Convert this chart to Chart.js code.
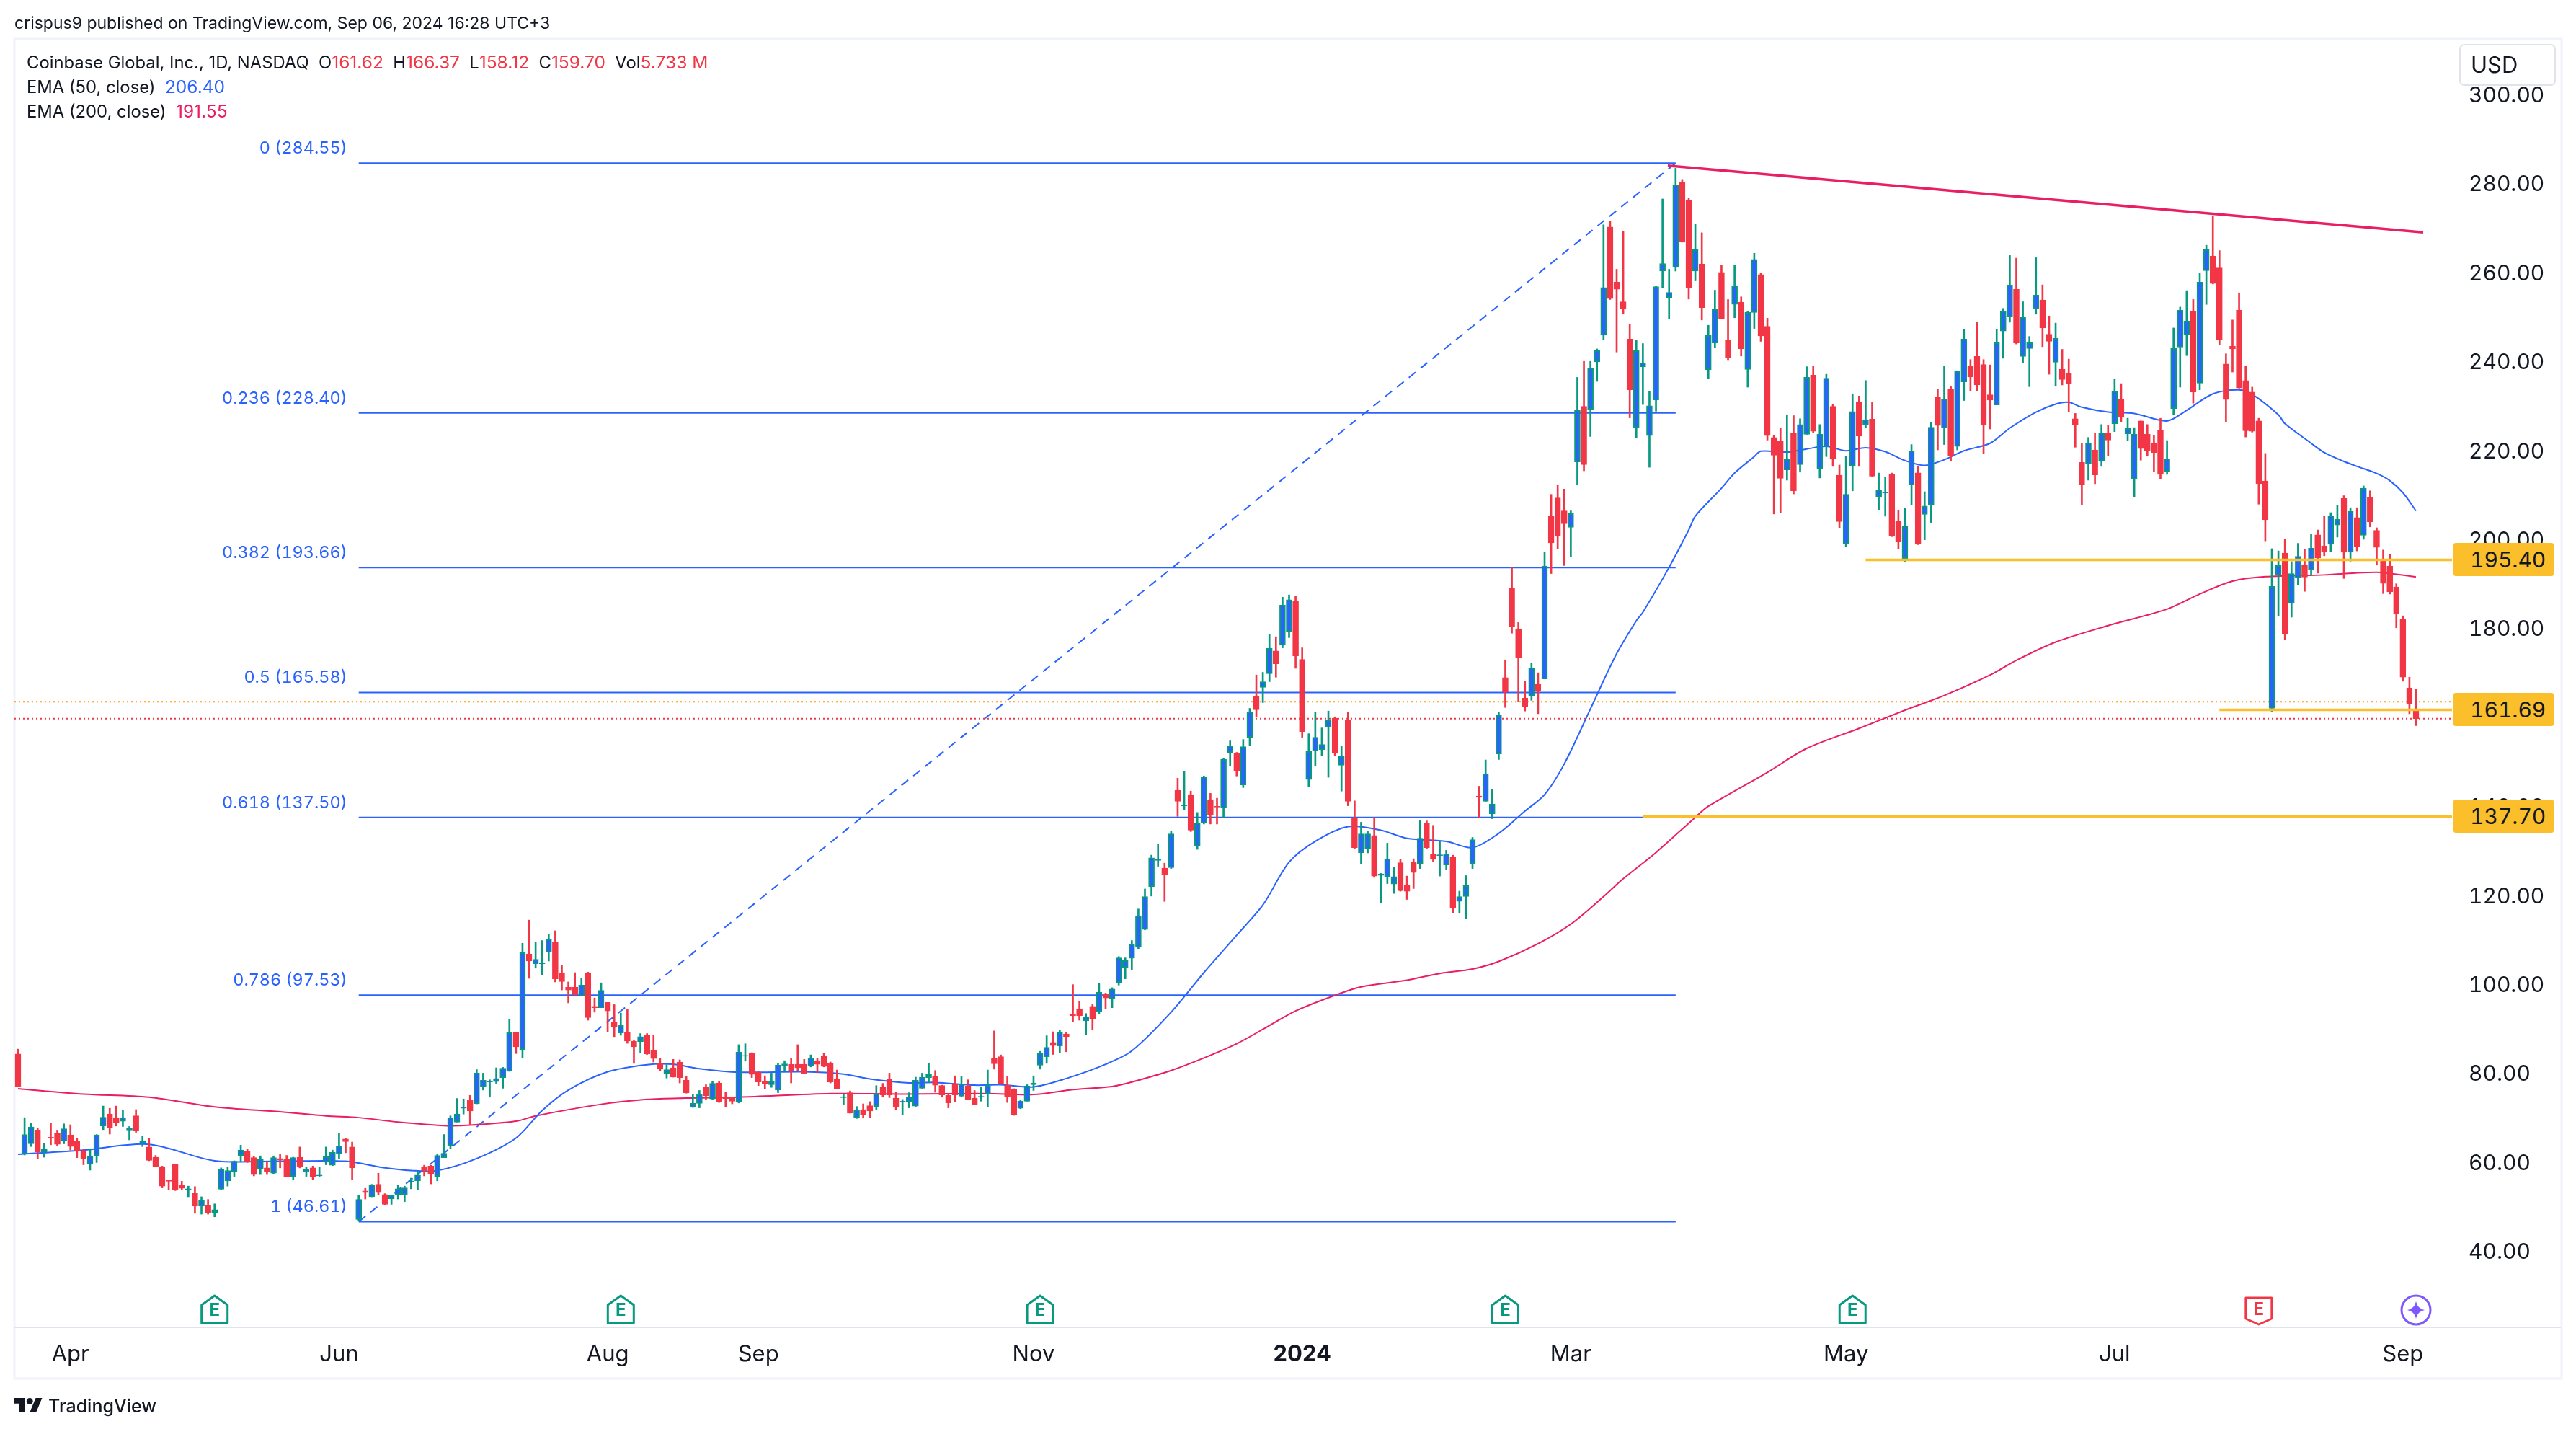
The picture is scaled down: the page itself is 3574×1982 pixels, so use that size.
<!DOCTYPE html>
<html>
<head>
<meta charset="utf-8">
<title>Coinbase Global, Inc., 1D, NASDAQ</title>
<script src="https://cdn.jsdelivr.net/npm/chart.js@4/dist/chart.umd.min.js"></script>
<style>
  html, body { margin: 0; padding: 0; background: #fff; }
  body { position: relative; width: 3574px; height: 1982px; overflow: hidden; font-family: Inter, "Liberation Sans", sans-serif; color: #131722; }
  canvas { display: block; position: absolute; left: 0; top: 0; }
  .txt { position: absolute; white-space: pre; font-size: 23.8px; line-height: 30px; }
  .red, .blue, .pink { font-size: 24.5px; }
  .red { color: #f23645; }
  .blue { color: #2962ff; }
  .pink { color: #e91e63; }
  .price, .fib, .tag { font-variant-numeric: tabular-nums; }
  .price { position: absolute; font-size: 30px; line-height: 40px; white-space: pre; }
  .fib { position: absolute; font-size: 23.4px; line-height: 30px; white-space: pre; color: #2962ff; text-align: right; }
  .tag { position: absolute; left: 3404px; width: 116px; height: 46px; line-height: 46px; padding-left: 23px; font-size: 30px; background: #fbbf2b; border-radius: 3px; }
  #logo { position: absolute; left: 19px; top: 1939px; width: 40px; height: 20px; fill: #131722; }
</style>
</head>
<body>
<canvas id="coinChart" width="3574" height="1982"></canvas>
<div class="txt" style="left:20px;top:17px;font-size:23px">crispus9 published on TradingView.com, Sep 06, 2024 16:28 UTC+3</div>
<div class="txt" style="left:37px;top:71px">Coinbase Global, Inc., 1D, NASDAQ  O<span class="red">161.62</span>  H<span class="red">166.37</span>  L<span class="red">158.12</span>  C<span class="red">159.70</span>  Vol<span class="red">5.733 M</span></div>
<div class="txt" style="left:37px;top:105px">EMA (50, close)  <span class="blue">206.40</span></div>
<div class="txt" style="left:37px;top:139px">EMA (200, close)  <span class="pink">191.55</span></div>
<svg id="logo" viewBox="0 4 36 18"><path d="M14 22H7V11H0V4h14v18zM28 22h-8l7.5-18h8L28 22z"/><circle cx="20" cy="8" r="4"/></svg>
<div class="txt" style="left:67px;top:1935px;font-size:25px;font-weight:500">TradingView</div>
<script>
// daily candles (bar 0 = mid March 2023, bar 366 = Sep 6 2024)
var opens = [
  84.3,61.8,64.1,67.2,62.3,65.6,66.6,64.7,66.1,64.6,
  62.6,59.5,61.4,68.1,70.8,70.0,69.2,67.2,70.4,64.3,
  63.4,61.1,59.0,56.0,59.6,54.8,53.8,53.1,50.1,50.2,
  48.7,53.9,55.8,57.9,61.5,62.4,61.0,58.4,58.7,57.5,
  60.8,60.6,56.8,61.1,57.7,58.7,56.9,60.0,59.3,61.8,
  65.2,63.4,47.1,53.5,52.2,55.0,52.7,51.7,52.7,52.7,
  55.6,55.8,59.0,59.1,56.8,61.0,63.7,69.0,72.1,73.9,
  73.1,76.9,78.0,78.1,79.0,80.4,89.1,85.3,106.8,104.6,
  104.6,107.2,109.4,102.6,99.3,99.3,97.3,102.6,95.0,94.7,
  95.9,91.5,89.0,89.1,87.2,87.1,88.6,85.1,82.2,79.9,
  81.2,82.5,78.4,72.3,73.2,76.8,74.2,77.8,74.5,74.5,
  73.5,83.8,84.5,80.2,78.1,77.4,76.2,81.6,82.0,82.0,
  82.0,81.6,82.8,83.8,82.2,78.6,74.5,75.6,70.0,71.8,
  72.7,72.5,76.9,78.6,74.4,73.5,73.6,72.6,76.6,79.0,
  79.2,77.2,75.0,77.6,74.8,77.1,74.4,74.6,75.4,83.3,
  83.7,77.3,76.5,72.1,73.7,77.4,81.8,83.7,86.9,86.1,
  88.8,93.2,94.5,91.8,95.0,93.9,97.8,96.7,100.4,103.8,
  105.8,108.3,112.3,121.9,127.8,126.1,126.2,143.6,140.1,142.6,
  131.0,136.2,141.5,140.0,139.6,152.1,151.9,144.8,155.5,164.8,
  166.7,169.8,174.9,176.2,179.3,186.05,173.0,146.0,152.4,152.7,
  157.8,159.8,149.2,159.3,137.3,129.5,130.5,133.4,124.45,124.1,
  122.5,127.3,122.3,127.5,127.1,136.2,129.2,128.9,126.8,128.6,
  118.6,119.7,127.1,142.3,141.1,138.3,151.75,168.9,189.15,179.9,
  164.3,164.8,167.4,168.6,205.2,209.3,206.4,202.7,217.4,229.9,
  229.2,239.9,245.9,270.2,257.8,253.4,245.0,225.1,238.8,223.3,
  231.3,260.3,254.3,261.1,280.2,276.3,260.3,261.9,238.1,244.1,
  260.0,244.8,252.8,253.3,238.2,251.0,259.5,247.9,222.9,222.0,
  215.6,223.8,216.8,223.6,236.9,215.9,220.9,229.9,214.4,199.0,
  216.5,230.96,225.8,227.0,209.5,210.4,214.6,204.0,195.7,212.2,
  214.96,205.6,207.8,232.0,225.0,233.8,220.9,235.4,238.9,241.1,
  239.3,232.5,230.2,246.8,250.0,256.2,241.1,242.9,251.8,253.8,
  246.1,239.8,238.2,237.4,227.1,217.3,216.9,220.1,217.6,223.9,
  226.0,231.4,223.7,213.5,226.6,223.6,221.7,224.5,215.3,229.4,
  243.2,245.9,251.2,235.1,260.4,263.7,261.0,239.4,243.4,251.5,
  235.7,233.1,226.6,213.1,162.0,192.0,196.9,185.6,191.3,194.3,
  193.1,201.0,198.5,198.9,203.2,209.2,197.1,204.9,200.9,209.4,
  202.0,195.1,194.0,189.3,182.0,166.6,161.62
];
var closes = [
  77.0,66.2,67.9,62.3,63.0,65.4,64.0,67.5,63.5,62.4,
  60.7,61.4,66.1,70.1,67.8,68.9,70.0,67.7,67.1,64.6,
  60.4,59.0,54.6,55.7,53.8,54.1,54.0,50.1,51.4,48.5,
  49.3,58.4,58.1,60.2,62.7,60.2,57.2,60.7,57.9,61.0,
  60.5,56.8,61.0,59.0,58.3,56.8,57.1,61.2,62.2,63.6,
  64.6,58.7,51.6,53.3,54.9,53.3,50.5,52.5,54.0,54.2,
  55.8,57.1,58.0,57.4,61.5,62.0,70.0,70.8,72.4,71.5,
  80.0,78.4,78.2,78.8,81.1,89.1,85.9,107.1,105.2,105.6,
  104.8,110.1,101.2,100.6,98.7,97.6,99.8,92.5,94.7,98.6,
  94.0,90.3,90.7,87.2,85.9,88.2,84.3,83.3,80.9,80.8,
  79.1,79.0,75.6,73.2,75.3,74.9,77.7,73.6,74.3,73.7,
  84.7,84.0,79.7,78.0,77.6,78.1,81.8,82.1,80.6,81.2,
  79.8,83.4,82.0,81.5,78.0,76.5,74.7,71.0,71.8,70.6,
  71.5,75.3,75.1,75.1,72.5,73.7,74.7,78.4,79.1,79.7,
  77.3,75.1,73.3,75.1,77.6,74.0,73.0,74.8,77.2,82.1,
  77.7,74.6,70.7,73.7,77.1,77.8,84.5,85.8,86.2,89.1,
  88.2,92.9,92.9,92.7,92.1,98.2,96.9,98.9,105.9,105.3,
  109.0,115.4,119.7,128.4,128.0,124.6,133.8,141.1,140.3,134.6,
  136.2,146.6,138.0,139.8,150.5,153.6,147.9,153.4,161.2,161.7,
  168.0,175.5,172.0,185.2,186.4,173.8,156.8,152.3,155.5,153.9,
  159.4,151.9,151.3,141.1,130.7,133.8,133.8,124.3,124.8,128.2,
  124.2,121.0,120.9,125.1,132.8,130.7,128.05,129.1,129.3,117.2,
  119.7,122.15,132.5,142.0,147.3,140.5,160.5,165.7,180.3,173.3,
  162.3,171.0,165.8,194.0,199.2,200.7,203.5,205.8,229.1,216.8,
  238.5,242.5,256.6,254.1,256.2,251.8,233.6,242.4,239.6,230.0,
  256.8,262.0,255.5,279.7,266.8,256.6,265.1,252.1,245.8,251.7,
  249.5,240.9,257.0,242.8,251.0,262.9,245.7,223.3,218.9,213.7,
  218.0,210.9,225.8,236.4,224.3,223.6,236.2,218.0,204.0,210.1,
  228.7,223.2,226.9,214.2,211.1,210.6,200.8,199.4,203.0,219.9,
  199.0,207.5,225.2,225.6,231.5,218.8,237.8,245.0,236.5,234.7,
  225.8,231.3,244.2,251.3,257.2,244.1,249.9,244.2,254.9,247.5,
  244.5,245.2,235.9,234.9,225.8,212.2,221.7,214.5,223.9,222.3,
  233.3,227.4,224.9,223.6,220.4,219.9,219.5,214.6,218.1,242.9,
  251.5,249.1,233.1,257.8,265.1,257.5,244.9,231.4,242.8,234.0,
  224.4,224.3,212.5,204.4,189.4,194.1,178.8,192.3,196.2,191.5,
  198.0,195.8,197.1,205.3,204.5,197.1,206.3,198.4,211.5,203.9,
  198.2,190.1,188.2,183.3,169.0,163.0,159.70
];
var highs = [
  85.4,70.0,68.7,67.6,64.2,68.7,67.2,68.6,68.4,65.4,
  63.0,62.8,66.2,72.6,72.1,72.6,71.7,68.0,71.8,65.9,
  65.3,61.5,59.1,56.0,59.6,55.7,54.6,54.5,52.2,51.6,
  50.6,58.7,58.8,60.3,63.8,62.9,61.3,61.4,60.1,61.4,
  61.7,61.5,61.1,63.4,58.9,59.1,58.9,63.4,62.7,66.4,
  65.3,64.5,52.5,54.1,55.0,57.5,52.9,52.6,54.8,54.6,
  56.4,58.0,59.3,59.3,61.8,66.2,70.4,74.3,74.2,75.0,
  80.8,80.0,78.5,81.2,81.3,92.1,89.1,109.2,114.4,109.5,
  109.8,111.2,112.0,104.3,100.5,102.6,101.4,102.7,96.9,100.3,
  95.9,95.4,93.5,94.3,87.3,88.9,88.9,88.5,83.4,81.9,
  83.1,83.0,79.2,75.3,76.1,77.4,78.2,78.1,75.7,74.6,
  86.4,86.6,84.6,80.4,79.4,80.0,82.2,82.8,83.3,86.4,
  83.1,84.1,83.3,84.5,82.5,80.7,75.3,76.0,72.5,73.1,
  73.6,77.2,77.7,80.0,75.7,74.1,75.6,79.1,80.0,82.2,
  80.6,77.3,75.2,79.4,79.2,78.5,76.1,76.8,80.7,89.5,
  84.1,79.2,76.5,74.0,77.4,79.4,84.9,88.4,89.3,89.7,
  89.2,99.9,96.2,93.4,95.4,100.2,98.0,99.2,106.2,105.9,
  109.8,116.9,121.4,129.0,131.5,127.2,134.4,146.3,147.9,143.4,
  138.6,146.8,142.9,141.8,150.7,154.7,152.1,155.0,162.0,169.5,
  170.1,178.7,178.1,187.0,187.5,187.3,175.6,156.3,161.2,157.6,
  161.4,160.1,153.5,161.05,141.2,136.4,134.3,137.5,124.9,131.7,
  126.2,128.0,124.3,128.2,136.9,136.7,135.7,132.1,130.1,129.0,
  120.9,124.4,133.0,144.5,150.4,143.7,161.2,172.9,193.7,181.3,
  168.1,172.1,170.0,197.1,210.1,212.2,211.3,206.4,236.4,240.0,
  240.0,242.8,270.7,271.5,260.7,269.3,248.3,244.7,244.0,233.3,
  257.0,276.5,260.7,283.4,280.9,276.7,270.8,268.9,248.1,256.0,
  261.6,253.9,261.7,254.5,251.3,264.3,259.9,249.7,223.3,225.0,
  228.0,227.8,227.1,238.8,239.0,225.8,237.1,230.3,216.7,218.6,
  232.7,232.2,235.7,230.9,214.9,213.9,214.9,206.6,207.0,221.3,
  216.5,210.7,226.2,233.7,238.9,234.3,237.9,247.2,240.4,248.9,
  240.4,239.2,247.2,251.9,263.8,263.2,253.4,245.6,263.3,257.2,
  250.2,248.6,242.7,240.5,228.3,221.5,222.9,223.8,225.8,225.6,
  236.1,235.0,227.2,225.1,226.6,225.8,223.3,227.2,222.2,247.5,
  252.2,255.9,253.9,259.8,266.1,272.6,264.9,241.7,249.3,255.4,
  239.0,234.2,227.2,219.3,197.9,197.4,200.0,195.0,199.1,197.7,
  201.1,202.1,205.2,206.0,207.6,209.8,207.1,207.1,212.0,210.9,
  202.6,197.6,196.6,190.0,182.8,169.0,166.37
];
var lows = [
  77.0,61.6,63.5,60.7,61.1,63.9,63.7,64.1,62.7,61.0,
  59.4,58.2,59.9,67.3,66.3,68.1,68.0,65.0,66.7,63.5,
  60.3,58.9,54.2,53.7,53.6,53.7,52.2,48.5,48.3,48.3,
  47.7,53.8,54.6,56.8,60.1,59.9,56.9,57.2,57.2,57.4,
  58.7,56.8,56.0,58.7,56.8,56.0,56.8,59.4,59.2,60.8,
  62.1,56.0,46.8,51.7,52.2,52.6,50.3,50.5,51.7,51.1,
  54.0,53.7,56.9,55.1,55.8,61.0,63.0,69.0,70.8,68.4,
  73.1,76.2,74.6,77.7,76.6,80.4,84.4,83.5,101.3,103.6,
  102.0,105.2,100.5,98.7,95.8,97.6,97.3,91.9,93.7,94.7,
  89.3,88.2,88.5,86.7,82.2,84.6,84.2,82.5,80.5,78.9,
  79.1,77.8,75.5,72.3,72.2,74.1,74.1,73.4,72.4,73.1,
  73.3,82.7,79.0,77.2,76.4,76.8,75.6,80.4,77.8,80.6,
  79.8,81.4,80.1,81.4,77.8,76.5,72.9,71.0,69.8,69.9,
  70.0,71.7,74.6,74.5,71.8,70.6,72.2,72.5,76.6,77.9,
  75.7,74.6,72.2,73.5,74.6,74.0,72.9,73.7,72.5,80.9,
  77.5,73.4,70.5,72.0,73.7,76.1,80.9,82.2,84.2,84.5,
  84.8,91.5,91.9,88.7,89.8,93.3,94.5,94.7,99.8,101.2,
  103.2,108.0,112.2,119.8,126.5,118.6,126.0,137.7,139.2,134.3,
  130.3,136.0,136.0,136.0,137.4,149.1,146.8,144.2,153.7,160.1,
  163.3,168.0,169.0,175.6,177.9,171.0,155.5,144.3,149.0,151.3,
  146.5,151.4,143.4,140.1,130.5,127.0,129.5,124.0,118.2,122.6,
  120.4,120.9,119.05,121.5,126.0,130.5,127.6,124.3,125.7,115.95,
  115.95,114.7,126.0,137.4,141.1,137.2,150.5,162.2,178.9,163.5,
  161.4,163.8,160.8,168.6,192.3,197.8,194.1,196.1,212.3,215.4,
  223.1,235.5,244.9,253.9,242.1,250.7,227.3,222.9,230.3,216.2,
  228.8,256.5,249.6,260.3,266.8,254.0,258.1,249.3,236.1,243.1,
  249.5,240.2,249.8,241.2,234.2,247.4,244.5,222.3,205.7,206.0,
  213.3,210.2,215.1,223.6,224.0,213.8,218.6,216.4,202.6,198.3,
  210.9,216.4,225.0,214.1,206.7,205.2,200.6,197.8,194.9,207.8,
  198.8,199.9,203.8,220.1,221.3,217.7,220.1,231.2,233.4,233.4,
  219.3,224.8,230.2,240.7,248.8,243.9,239.6,234.3,250.6,243.3,
  237.1,234.4,234.7,228.6,220.7,207.8,213.3,212.5,216.4,218.8,
  224.2,226.4,222.2,209.6,217.8,218.8,215.2,213.6,214.6,228.0,
  234.2,241.3,230.6,233.6,252.8,257.4,243.8,226.4,237.6,234.0,
  223.0,224.1,207.9,199.5,161.3,182.8,177.5,182.5,189.8,188.3,
  191.9,192.4,196.3,197.2,200.5,191.2,195.1,197.4,200.0,202.8,
  194.2,187.8,187.7,180.1,168.1,160.8,158.12
];

// EMA lines, sampled by eye at these bars
var ema50Bars = [0,10,20,30,40,50,56,60,64,70,76,80,84,90,96,100,104,110,120,126,130,136,140,146,150,155,160,166,170,176,181,186,190,194,198,203,208,212,218,222,226,230,233,236,240,244,247,248,252,255,256,260,262,265,266,270,273,276,279,282,285,288,291,294,297,301,304,308,311,313,315,319,323,328,331,335,339,341,345,346,350,352,355,357,360,362,364,366];
var ema50Vals = [61.75,62.7,64.0,60.3,60.2,60.2,58.7,58.1,58.1,60.8,65.4,71.6,76.2,80.3,81.9,82.0,81.0,80.2,80.3,79.8,78.7,77.8,77.9,77.3,77.4,76.9,78.8,82.0,85.0,93.7,102.6,111.0,117.8,127.4,132.1,135.4,134.6,132.8,132.1,130.7,133.9,138.9,142.6,149.5,161.9,174.3,181.7,183.6,193.7,202.1,205.2,211.5,214.9,218.6,219.8,219.6,220.3,220.9,219.9,220.6,219.7,217.7,216.6,217.9,219.9,221.6,225.0,228.6,230.4,230.8,229.7,228.6,228.3,226.6,229.0,232.7,233.6,232.6,228.0,226.0,221.6,219.5,217.5,216.4,214.8,213.2,210.5,206.4];
var ema200Bars = [0,10,20,30,40,47,52,58,65,69,76,79,89,96,102,110,124,135,148,155,161,167,170,176,181,186,191,195,201,205,212,217,222,226,232,237,242,245,250,256,258,267,273,281,288,294,301,305,311,319,328,333,338,343,352,360,366];
var ema200Vals = [76.5,75.3,74.6,72.4,71.3,70.4,70.0,69.0,68.2,68.3,69.2,70.4,73.0,74.1,74.4,74.6,75.4,75.3,75.4,75.2,76.3,77.0,78.0,80.6,83.4,86.6,90.7,94.0,97.5,99.4,100.9,102.4,103.4,105.1,109.1,113.5,119.7,123.7,129.6,137.5,140.0,147.6,153.0,157.5,161.6,164.9,169.5,172.8,176.9,180.6,184.3,187.7,190.6,191.6,192.0,192.6,191.55];

// fibonacci retracement tool
var fibRatios = ["0","0.236","0.382","0.5","0.618","0.786","1"];
var fibPrices = [284.55,228.40,193.66,165.58,137.50,97.53,46.61];
var fibStartBar = 52;
var fibEndBar = 253;

// drawn support levels and the falling trend line
var levelPrices = [195.40,161.69,137.70];
var levelStartBars = [282,336,248];
var trendBars = [251.8,367.1];
var trendPrices = [284.0,269.0];

// price lines
var prevLinePrice = 163.5;
var lastLinePrice = 159.70;

// axes
var priceTicks = [40,60,80,100,120,140,160,180,200,220,240,260,280,300];
var monthBars = [8,49,90,113,155,196,237,279,320,364];
var monthLabels = ["Apr","Jun","Aug","Sep","Nov","2024","Mar","May","Jul","Sep"];
var xMin = -0.55, xMax = 371.5, yMin = 23.02, yMax = 312.48;

// event markers under the candles
var earningsBars = [30,92,156,227,280];
var earningsMissBars = [342];
var dividendBar = 366;

var GREEN = "#089981", RED = "#f23645", BLUE = "#2962ff", PINK = "#e91e63", YELLOW = "#fbbf2b", TEXT = "#131722";
var FONT = "Inter, 'Liberation Sans', sans-serif";

function hline(price, from, to, color, width, dash, order) {
    return {
        type: "line", data: [{x: from, y: price}, {x: to, y: price}],
        borderColor: color, borderWidth: width, borderDash: dash || [], pointRadius: 0, order: order
    };
}

function pairs(xs, ys) {
    return xs.map(function (x, i) { return {x: x, y: ys[i]}; });
}

function addLabel(cls, text, css) {
    var el = document.createElement("div");
    el.className = cls;
    el.textContent = text;
    el.style.cssText = css;
    document.body.appendChild(el);
}

// frame and markers that the library has no element for
var decorPlugin = {
    id: "decor",
    beforeDraw: function (chart) {
        var c = chart.ctx, a = chart.chartArea;
        c.save();
        c.strokeStyle = "#f0f3fa";
        c.lineWidth = 3;
        c.strokeRect(a.left, a.top, 3554 - a.left, 1912 - a.top);
        c.strokeStyle = "#e0e3eb";
        c.lineWidth = 2;
        c.beginPath();
        c.moveTo(a.left, a.bottom + 1);
        c.lineTo(3553, a.bottom + 1);
        c.stroke();
        c.restore();
    },
    afterDraw: function (chart) {
        var c = chart.ctx, x = chart.scales.x;
        c.save();
        c.textBaseline = "middle";

        // currency box
        c.strokeStyle = "#e0e3eb";
        c.lineWidth = 2;
        c.beginPath();
        c.roundRect(3413, 62, 132, 56, 6);
        c.stroke();
        c.fillStyle = TEXT;
        c.font = "31px " + FONT;
        c.textAlign = "left";
        c.fillText("USD", 3428, 92);

        // earnings tags
        c.lineWidth = 3;
        c.lineJoin = "round";
        c.textAlign = "center";
        c.font = "bold 24px " + FONT;
        earningsBars.forEach(function (b) {
            var px = x.getPixelForValue(b);
            c.strokeStyle = GREEN;
            c.beginPath();
            c.moveTo(px, 1797);
            c.lineTo(px + 18, 1810);
            c.lineTo(px + 18, 1835);
            c.lineTo(px - 18, 1835);
            c.lineTo(px - 18, 1810);
            c.closePath();
            c.stroke();
            c.fillStyle = GREEN;
            c.fillText("E", px, 1818);
        });
        earningsMissBars.forEach(function (b) {
            var px = x.getPixelForValue(b);
            c.strokeStyle = RED;
            c.beginPath();
            c.moveTo(px - 18, 1800);
            c.lineTo(px + 18, 1800);
            c.lineTo(px + 18, 1829);
            c.lineTo(px, 1837);
            c.lineTo(px - 18, 1829);
            c.closePath();
            c.stroke();
            c.fillStyle = RED;
            c.fillText("E", px, 1817);
        });

        // dividend mark
        var sx = x.getPixelForValue(dividendBar), sy = 1817;
        c.strokeStyle = "#7e57ff";
        c.fillStyle = "#7e57ff";
        c.beginPath();
        c.arc(sx, sy, 20, 0, Math.PI * 2);
        c.stroke();
        c.beginPath();
        c.moveTo(sx, sy - 12);
        c.quadraticCurveTo(sx + 2, sy - 2, sx + 12, sy);
        c.quadraticCurveTo(sx + 2, sy + 2, sx, sy + 12);
        c.quadraticCurveTo(sx - 2, sy + 2, sx - 12, sy);
        c.quadraticCurveTo(sx - 2, sy - 2, sx, sy - 12);
        c.fill();
        c.restore();
    }
};

document.addEventListener("DOMContentLoaded", function () {
    var bars = opens.map(function (o, i) { return i; });
    var isUp = opens.map(function (o, i) { return closes[i] >= o; });

    var datasets = [];

    // fib lines go under everything else
    fibPrices.forEach(function (p) {
        datasets.push(hline(p, fibStartBar, fibEndBar, BLUE, 2, [], 10));
    });
    datasets.push({
        type: "line",
        data: [{x: fibStartBar, y: fibPrices[6]}, {x: fibEndBar, y: fibPrices[0]}],
        borderColor: BLUE, borderWidth: 2, borderDash: [12, 9], pointRadius: 0, order: 10
    });

    datasets.push(hline(prevLinePrice, xMin, xMax, "#ff9800", 2, [2, 4], 9));
    datasets.push(hline(lastLinePrice, xMin, xMax, RED, 2, [2, 4], 9));

    datasets.push({type: "line", data: pairs(ema50Bars, ema50Vals), borderColor: BLUE, borderWidth: 2, pointRadius: 0, tension: 0.3, order: 8});
    datasets.push({type: "line", data: pairs(ema200Bars, ema200Vals), borderColor: PINK, borderWidth: 2, pointRadius: 0, tension: 0.3, order: 8});

    // wicks and bodies, floating bars on a linear x axis
    datasets.push({
        type: "bar", grouped: false, order: 5, barThickness: 2,
        data: bars.map(function (b) { return {x: b, y: [lows[b], highs[b]]}; }),
        backgroundColor: isUp.map(function (u) { return u ? GREEN : RED; })
    });
    datasets.push({
        type: "bar", grouped: false, order: 4, barThickness: 8,
        data: bars.map(function (b) { return {x: b, y: [opens[b], closes[b]]}; }),
        backgroundColor: isUp.map(function (u) { return u ? BLUE : RED; }),
        borderColor: isUp.map(function (u) { return u ? GREEN : RED; }),
        borderWidth: 2, borderSkipped: false
    });

    levelPrices.forEach(function (p, i) {
        datasets.push(hline(p, levelStartBars[i], xMax, YELLOW, 3.5, [], 2));
    });
    datasets.push({
        type: "line", data: pairs(trendBars, trendPrices),
        borderColor: PINK, borderWidth: 3.5, pointRadius: 0, order: 1
    });

    var chart = new Chart(document.getElementById("coinChart"), {
        data: {datasets: datasets},
        plugins: [decorPlugin],
        options: {
            responsive: false,
            animation: false,
            devicePixelRatio: 1,
            layout: {autoPadding: false, padding: {left: 20, top: 54, right: 21, bottom: 70}},
            plugins: {legend: {display: false}, tooltip: {enabled: false}},
            scales: {
                x: {
                    type: "linear", min: xMin, max: xMax, offset: false,
                    grid: {display: false}, border: {display: false},
                    afterBuildTicks: function (s) {
                        s.ticks = monthBars.map(function (b) { return {value: b}; });
                    },
                    afterFit: function (s) { s.height = 72; },
                    ticks: {
                        autoSkip: false, maxRotation: 0, padding: 12, color: TEXT,
                        font: function (ctx) {
                            var bold = ctx.tick && ctx.tick.value === 196;
                            return {family: FONT, size: 31, weight: bold ? "bold" : "normal"};
                        },
                        callback: function (v) { return monthLabels[monthBars.indexOf(v)]; }
                    }
                },
                y: {
                    type: "linear", position: "right", min: yMin, max: yMax,
                    grid: {display: false}, border: {display: false},
                    afterBuildTicks: function (s) {
                        s.ticks = priceTicks.map(function (v) { return {value: v}; });
                    },
                    afterFit: function (s) { s.width = 151; },
                    ticks: {display: false}
                }
            }
        }
    });

    // number labels as page text, the canvas font has no fixed width digits
    var xs = chart.scales.x, ys = chart.scales.y;
    priceTicks.forEach(function (v) {
        addLabel("price", v.toFixed(2), "left:3425px;top:" + (ys.getPixelForValue(v) - 20) + "px");
    });
    fibPrices.forEach(function (p, i) {
        addLabel("fib", fibRatios[i] + " (" + p.toFixed(2) + ")",
            "right:" + (3574 - xs.getPixelForValue(fibStartBar) + 16) + "px;top:" + (ys.getPixelForValue(p) - 36) + "px");
    });
    levelPrices.forEach(function (p) {
        addLabel("tag", p.toFixed(2), "top:" + (ys.getPixelForValue(p) - 23) + "px");
    });
});
</script>
</body>
</html>
